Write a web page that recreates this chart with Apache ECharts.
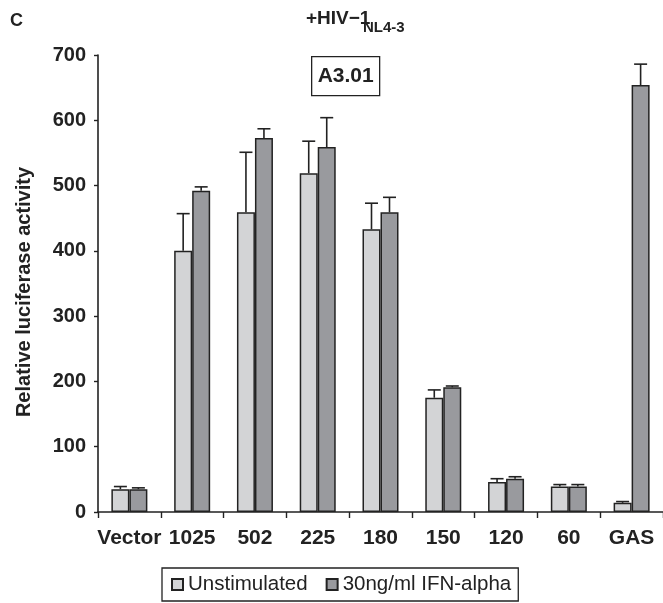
<!DOCTYPE html>
<html>
<head>
<meta charset="utf-8">
<script src="https://cdn.jsdelivr.net/npm/echarts@6/dist/echarts.min.js"></script>
<style>
  html, body { margin: 0; padding: 0; background: #fff; }
  #chart { width: 663px; height: 603px; }
</style>
</head>
<body>
<div id="chart"></div>
<script>
// Promoter constructs and measured luciferase activity (mean and mean + SD)
const categories = ['Vector', '1025', '502', '225', '180', '150', '120', '60', 'GAS'];
const unstimulated = [35, 400, 459, 519, 433, 175, 46, 39, 14];
const unstimulatedTop = [39, 457, 551, 568, 473, 187, 51, 42, 16];
const ifnAlpha = [35, 492, 573, 559, 459, 191, 51, 39, 654];
const ifnAlphaTop = [37, 498, 587, 604, 482, 193, 54, 42, 686];
const yTicks = { min: 0, max: 700, interval: 100 };
const seriesNames = ['Unstimulated', '30ng/ml IFN-alpha'];

const FONT = '"Liberation Sans", Arial, Helvetica, sans-serif';
const BAR_W = 18;
const lightFill = '#d3d4d6';
const darkFill = '#999a9e';
const edge = '#222222';

function errorBars(means, tops, offset) {
  return {
    type: 'custom',
    silent: true,
    z: 3,
    data: means.map((m, i) => [i, m, tops[i]]),
    encode: { x: 0, y: [1, 2] },
    renderItem: function (params, api) {
      const base = api.coord([api.value(0), api.value(1)]);
      const top = api.coord([api.value(0), api.value(2)]);
      const cx = base[0] + offset;
      const style = { stroke: edge, lineWidth: 1.6 };
      return {
        type: 'group',
        children: [
          { type: 'line', shape: { x1: cx, y1: base[1], x2: cx, y2: top[1] }, style: style },
          { type: 'line', shape: { x1: cx - 6.5, y1: top[1], x2: cx + 6.5, y2: top[1] }, style: style }
        ]
      };
    }
  };
}

const chart = echarts.init(document.getElementById('chart'), null, { renderer: 'canvas' });

chart.setOption({
  animation: false,
  backgroundColor: '#ffffff',
  textStyle: { fontFamily: FONT },
  grid: { left: 98, right: 0, top: 55, bottom: 91, containLabel: false },
  legend: {
    data: seriesNames,
    left: 162,
    top: 568,
    padding: [6, 7, 6, 9],
    borderColor: '#222',
    borderWidth: 1.3,
    itemWidth: 11,
    itemHeight: 11,
    itemGap: 18,
    icon: 'rect',
    selectedMode: false,
    textStyle: { fontFamily: FONT, fontSize: 20.5, color: '#222' }
  },
  xAxis: {
    type: 'category',
    data: categories,
    axisLine: { lineStyle: { color: '#222', width: 1.6 } },
    axisTick: { show: true, length: 6, lineStyle: { color: '#222', width: 1.4 } },
    axisLabel: { interval: 0, margin: 16, fontFamily: FONT, fontSize: 21, fontWeight: 'bold', color: '#222' }
  },
  yAxis: {
    type: 'value',
    min: yTicks.min,
    max: yTicks.max,
    interval: yTicks.interval,
    splitLine: { show: false },
    axisLine: { show: true, lineStyle: { color: '#222', width: 1.6 } },
    axisTick: { show: true, length: 4, lineStyle: { color: '#222', width: 1.4 } },
    axisLabel: { margin: 12, fontFamily: FONT, fontSize: 20, fontWeight: 'bold', color: '#222' }
  },
  series: [
    {
      name: seriesNames[0],
      type: 'bar',
      data: unstimulated,
      barWidth: BAR_W,
      barGap: '0%',
      itemStyle: { color: lightFill, borderColor: edge, borderWidth: 1.5 }
    },
    {
      name: seriesNames[1],
      type: 'bar',
      data: ifnAlpha,
      barWidth: BAR_W,
      barGap: '0%',
      itemStyle: { color: darkFill, borderColor: edge, borderWidth: 1.5 }
    },
    errorBars(unstimulated, unstimulatedTop, -BAR_W / 2),
    errorBars(ifnAlpha, ifnAlphaTop, BAR_W / 2)
  ],
  graphic: [
    { type: 'text', left: 10, top: 12, style: { text: 'C', font: 'bold 18px ' + FONT, fill: '#222' } },
    { type: 'text', left: 306, top: 9, style: { text: '+HIV\u22121', font: 'bold 19px ' + FONT, fill: '#222' } },
    { type: 'text', left: 363, top: 20, style: { text: 'NL4-3', font: 'bold 15px ' + FONT, fill: '#222' } },
    {
      type: 'text',
      x: 24,
      y: 292,
      rotation: Math.PI / 2,
      style: {
        text: 'Relative luciferase activity',
        font: 'bold 20px ' + FONT,
        fill: '#222',
        align: 'center',
        verticalAlign: 'middle'
      }
    },
    {
      type: 'group',
      left: 311,
      top: 56,
      children: [
        { type: 'rect', shape: { x: 0, y: 0, width: 68, height: 39 }, style: { fill: '#fff', stroke: '#222', lineWidth: 1.3 } },
        { type: 'text', x: 34, y: 20, style: { text: 'A3.01', font: 'bold 21px ' + FONT, fill: '#222', align: 'center', verticalAlign: 'middle' } }
      ]
    }
  ]
});
</script>
</body>
</html>
